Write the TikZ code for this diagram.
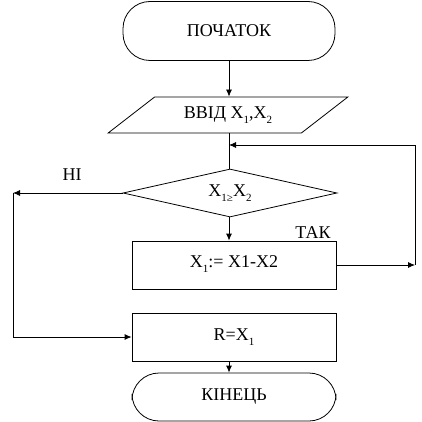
\documentclass[tikz,border=0pt]{standalone}
\usepackage{fontspec}
\setmainfont{Liberation Serif}
\usetikzlibrary{shapes.geometric}
\usetikzlibrary{arrows.meta}
\usetikzlibrary{positioning}

\newcommand{\lowsub}[1]{\raisebox{-5pt}{\fontsize{11}{12}\selectfont #1}}

\tikzset{
    term/.style={draw, line width=0.8pt, rounded corners=27pt, inner sep=0pt},
    inout/.style={draw, line width=0.8pt, trapezium, trapezium left angle=31, trapezium right angle=149,
        trapezium stretches=true, minimum width=240pt, minimum height=36pt, inner sep=0pt},
    cond/.style={draw, line width=0.8pt, diamond, aspect=4.46, minimum width=214pt, minimum height=48pt, inner sep=0pt},
    procbox/.style={draw, line width=0.8pt, rectangle, minimum width=204pt, minimum height=48pt, inner sep=0pt},
    conn/.style={line width=0.8pt, -{Latex[length=7pt,width=6pt]}},
}

\begin{document}
\begin{tikzpicture}[x=1pt, y=-1pt, font=\fontsize{18}{21}\selectfont]
    \useasboundingbox (0,0) rectangle (422,422);

    \node[term, minimum width=212pt, minimum height=59pt] (start) at (229,31) {ПОЧАТОК};
    \node[inout] (input) at (228,115) {ВВІД X\lowsub{1},X\lowsub{2}};
    \node[cond] (test) at (230,193) {X\lowsub{1≥}X\lowsub{2}};
    \node[procbox] (calc) at (234,265) {\raisebox{6pt}{X\lowsub{1}:= X1-X2}};
    \node[procbox] (res) at (234,337) {\raisebox{-5pt}{R=X\lowsub{1}}};
    \node[term, minimum width=204pt, minimum height=48pt] (stop) at (234,397) {\raisebox{-3pt}{КІНЕЦЬ}};

    \node[] (no) at (72,175) {НІ};
    \node[] (yes) at (313,233) {ТАК};

    \coordinate (join) at (229,145);
    \coordinate (loopR) at (415,265);
    \coordinate (noL) at (13,193);

    \draw[conn] (start.south) -- (start.south |- input.north);
    \draw[line width=0.8pt] (input.south -| join) -- (test.north -| join);
    \draw[conn] (test.south -| join) -- (calc.north -| join);
    \draw[conn] (calc.east) -- (loopR);
    \draw[conn] (loopR) |- (join);
    \draw[conn] (test.west) -- (noL);
    \draw[conn] (noL) |- (res.west);
    \draw[conn] (res.south -| join) -- (stop.north -| join);
\end{tikzpicture}
\end{document}
